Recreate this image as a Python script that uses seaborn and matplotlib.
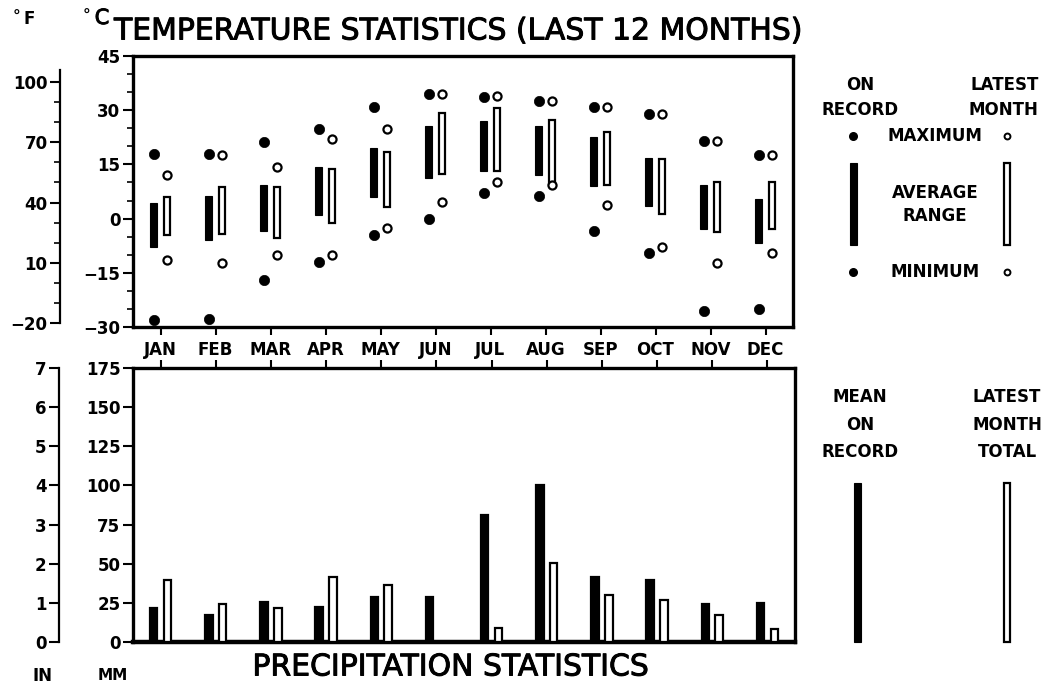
import numpy as np
import pandas as pd
import matplotlib
matplotlib.use("Agg")
import matplotlib.pyplot as plt
import matplotlib.patheffects as pe
import seaborn as sns

# ---------------- data ----------------
months = ["JAN", "FEB", "MAR", "APR", "MAY", "JUN",
          "JUL", "AUG", "SEP", "OCT", "NOV", "DEC"]

# temperature, degrees C
rec_max = [18, 18, 21.3, 24.8, 31, 34.4, 33.7, 32.6, 31, 28.9, 21.6, 17.7]
rec_min = [-28.2, -27.8, -16.9, -11.9, -4.5, 0, 7.1, 6.2, -3.3, -9.4, -25.5, -25]
rec_avg_hi = [4.4, 6.2, 9.4, 14.3, 19.5, 25.5, 27, 25.5, 22.5, 16.8, 9.4, 5.5]
rec_avg_lo = [-7.8, -6, -3.3, 0.9, 5.9, 11.2, 13.3, 12.2, 8.9, 3.4, -2.8, -6.7]

lat_max = [12, 17.7, 14.3, 22.1, 24.8, 34.4, 33.9, 32.6, 31, 28.9, 21.6, 17.7]
lat_min = [-11.4, -12.4, -10, -10, -2.7, 4.5, 10, 9.4, 3.9, -7.8, -12.2, -9.4]
lat_avg_hi = [5.9, 8.8, 8.8, 13.7, 18.4, 29.1, 30.7, 27.3, 23.9, 16.6, 10.1, 10]
lat_avg_lo = [-4.5, -4.4, -5.3, -1.2, 3.2, 12.3, 13.1, 9.2, 9.2, 1.2, -3.6, -3]

# precipitation, mm
rec_precip = [21.7, 17.5, 25.6, 22.4, 28.8, 28.8, 81, 100.2, 41.6, 39.4, 24.5, 24.9]
lat_precip = [39.4, 24.1, 21.7, 41.2, 36.7, 0, 9.2, 50.5, 30.3, 26.7, 17.5, 8.6]

c_ticks = [-30, -15, 0, 15, 30, 45]
f_ticks = [-20, 10, 40, 70, 100]
mm_ticks = [0, 25, 50, 75, 100, 125, 150, 175]
in_ticks = [0, 1, 2, 3, 4, 5, 6, 7]

# ---------------- style ----------------
sns.set_theme(style="white")
plt.rcParams["font.family"] = ["DejaVu Sans"]
plt.rcParams["font.weight"] = "bold"
plt.rcParams["axes.linewidth"] = 2.4
plt.rcParams["text.color"] = "black"
plt.rcParams["xtick.color"] = "black"
plt.rcParams["ytick.color"] = "black"
plt.rcParams["axes.edgecolor"] = "black"
plt.rcParams["axes.labelcolor"] = "black"

W, H = 1048, 687
fig = plt.figure(figsize=(W / 100, H / 100), dpi=100)


def fx(px):
    return px / W


def fy(py):
    return 1 - py / H


TICKFONT = dict(fontsize=12, fontweight="bold", color="black")

# ---------------- temperature panel ----------------
top_l, top_r, top_t, top_b = 133, 793, 56, 327
ax1 = fig.add_axes([fx(top_l), fy(top_b), fx(top_r - top_l), (top_b - top_t) / H])
x = np.arange(len(months))
off = 0.125
bw = 0.125

rec_hi = np.array(rec_avg_hi)
rec_lo = np.array(rec_avg_lo)
lat_hi = np.array(lat_avg_hi)
lat_lo = np.array(lat_avg_lo)

ax1.bar(x - off, rec_hi - rec_lo, bottom=rec_lo, width=bw, color="black",
        edgecolor="black", linewidth=0.8, zorder=3)
ax1.bar(x + off, lat_hi - lat_lo, bottom=lat_lo, width=bw * 0.85, color="white",
        edgecolor="black", linewidth=1.6, zorder=3)

sns.scatterplot(x=x - off, y=rec_max, ax=ax1, color="black", s=55,
                edgecolor="black", linewidth=0.5, zorder=4, legend=False)
sns.scatterplot(x=x - off, y=rec_min, ax=ax1, color="black", s=55,
                edgecolor="black", linewidth=0.5, zorder=4, legend=False)
sns.scatterplot(x=x + off, y=lat_max, ax=ax1, color="white", s=34,
                edgecolor="black", linewidth=1.6, zorder=4, legend=False)
sns.scatterplot(x=x + off, y=lat_min, ax=ax1, color="white", s=34,
                edgecolor="black", linewidth=1.6, zorder=4, legend=False)

ax1.set_xlim(-0.5, len(months) - 0.5)
ax1.set_ylim(-30, 45)
ax1.set_xticks(x)
ax1.set_xticklabels(months, **TICKFONT)
ax1.set_yticks(c_ticks)
ax1.set_yticklabels([str(t).replace("-", "\u2212") for t in c_ticks], **TICKFONT)
ax1.set_yticks(np.arange(-30, 46, 5), minor=True)
ax1.tick_params(axis="x", direction="out", length=6, width=1.5, bottom=True, pad=4)
ax1.tick_params(axis="y", which="major", direction="out", length=7, width=1.5, left=True, pad=2)
ax1.tick_params(axis="y", which="minor", direction="out", length=4, width=1.2, left=True)
ax1.set_xlabel("")
ax1.set_ylabel("")

# Fahrenheit scale
axf = fig.add_axes([fx(60), fy(top_b), 0.0001, (top_b - top_t) / H])
axf.set_ylim(-30 * 1.8 + 32, 45 * 1.8 + 32)
for k in ["top", "right", "bottom"]:
    axf.spines[k].set_visible(False)
axf.spines["left"].set_linewidth(1.6)
axf.spines["left"].set_bounds(-20, 106)
axf.set_xticks([])
axf.set_yticks(f_ticks)
axf.set_yticklabels([str(t).replace("-", "\u2212") for t in f_ticks], **TICKFONT)
axf.set_yticks(np.arange(-20, 106, 10), minor=True)
axf.tick_params(axis="y", which="major", direction="out", length=7, width=1.5, left=True, pad=2)
axf.tick_params(axis="y", which="minor", direction="out", length=4, width=1.2, left=True)
axf.patch.set_visible(False)

# ---------------- precipitation panel ----------------
bot_l, bot_r, bot_t, bot_b = 133, 795, 368, 642
ax2 = fig.add_axes([fx(bot_l), fy(bot_b), fx(bot_r - bot_l), (bot_b - bot_t) / H])
df = pd.DataFrame({
    "month": months * 2,
    "series": ["record"] * len(months) + ["latest"] * len(months),
    "mm": rec_precip + lat_precip,
})
sns.barplot(data=df, x="month", y="mm", hue="series", order=months,
            hue_order=["record", "latest"],
            palette={"record": "black", "latest": "white"},
            width=0.5, gap=0.45, edgecolor="black", linewidth=1.6,
            legend=False, ax=ax2, zorder=3)
ax2.set_xlim(-0.5, len(months) - 0.5)
ax2.set_ylim(0, 175)
ax2.set_yticks(mm_ticks)
ax2.set_yticklabels([str(t) for t in mm_ticks], **TICKFONT)
ax2.xaxis.tick_top()
ax2.set_xticks(np.arange(len(months)))
ax2.set_xticklabels([])
ax2.tick_params(axis="x", direction="out", length=6, width=1.5, top=True, bottom=False)
ax2.tick_params(axis="y", direction="out", length=7, width=1.5, left=True, pad=2)
ax2.set_xlabel("")
ax2.set_ylabel("")
ax2.spines["bottom"].set_linewidth(3.2)

# inch scale
axi = fig.add_axes([fx(59), fy(bot_b), 0.0001, (bot_b - bot_t) / H])
axi.set_ylim(0, 7)
for k in ["top", "right", "bottom"]:
    axi.spines[k].set_visible(False)
axi.spines["left"].set_linewidth(1.6)
axi.set_xticks([])
axi.set_yticks(in_ticks)
axi.set_yticklabels([str(t) for t in in_ticks], **TICKFONT)
axi.tick_params(axis="y", direction="out", length=7, width=1.5, left=True, pad=2)
axi.patch.set_visible(False)

# ---------------- titles / unit labels ----------------
stroke = [pe.withStroke(linewidth=0.7, foreground="black")]
fig.text(fx(114), fy(31), "TEMPERATURE STATISTICS (LAST 12 MONTHS)",
         fontsize=21.5, fontweight="normal", ha="left", va="center",
         path_effects=stroke)
fig.text(fx(450), fy(667), "PRECIPITATION STATISTICS",
         fontsize=21.5, fontweight="normal", ha="center", va="center",
         path_effects=stroke)
fig.text(fx(16), fy(17), "\u00b0", fontsize=11, fontweight="bold", ha="center", va="center")
fig.text(fx(29), fy(19), "F", fontsize=12, fontweight="bold", ha="center", va="center")
fig.text(fx(86), fy(16), "\u00b0", fontsize=11, fontweight="bold", ha="center", va="center")
fig.text(fx(102), fy(18), "C", fontsize=15, fontweight="normal", ha="center", va="center",
         path_effects=stroke)
fig.text(fx(42), fy(676), "IN", fontsize=12, fontweight="bold", ha="center", va="center")
fig.text(fx(113), fy(676), "MM", fontsize=11, fontweight="bold", ha="center", va="center")

# ---------------- legends (overlay in pixel coordinates) ----------------
lg = fig.add_axes([0, 0, 1, 1])
lg.set_xlim(0, W)
lg.set_ylim(H, 0)
lg.axis("off")
lg.patch.set_visible(False)
LF = dict(fontsize=12, fontweight="bold", ha="center", va="center")

# temperature legend
lg.text(860, 85, "ON", **LF)
lg.text(860, 110, "RECORD", **LF)
lg.text(1005, 85, "LATEST", **LF)
lg.text(1003, 110, "MONTH", **LF)
lg.text(935, 136, "MAXIMUM", **LF)
lg.text(935, 193, "AVERAGE", **LF)
lg.text(935, 216, "RANGE", **LF)
lg.text(935, 272, "MINIMUM", **LF)
lg.scatter([853, 853], [136, 272], s=30, color="black", zorder=3)
lg.scatter([1007, 1007], [136, 272], s=18, color="white", edgecolor="black",
           linewidth=1.4, zorder=3)
lg.add_patch(plt.Rectangle((849.5, 163), 7, 82, facecolor="black", edgecolor="black", lw=0.8))
lg.add_patch(plt.Rectangle((1004, 163), 6, 82, facecolor="white", edgecolor="black", lw=1.6))

# precipitation legend
lg.text(860, 397, "MEAN", **LF)
lg.text(860, 425, "ON", **LF)
lg.text(860, 452, "RECORD", **LF)
lg.text(1007, 397, "LATEST", **LF)
lg.text(1007, 425, "MONTH", **LF)
lg.text(1007, 452, "TOTAL", **LF)
lg.add_patch(plt.Rectangle((853.5, 483), 7, 159, facecolor="black", edgecolor="black", lw=0.8))
lg.add_patch(plt.Rectangle((1004, 483), 6, 159, facecolor="white", edgecolor="black", lw=1.6))

fig.savefig("out.png", dpi=100, facecolor="white")
